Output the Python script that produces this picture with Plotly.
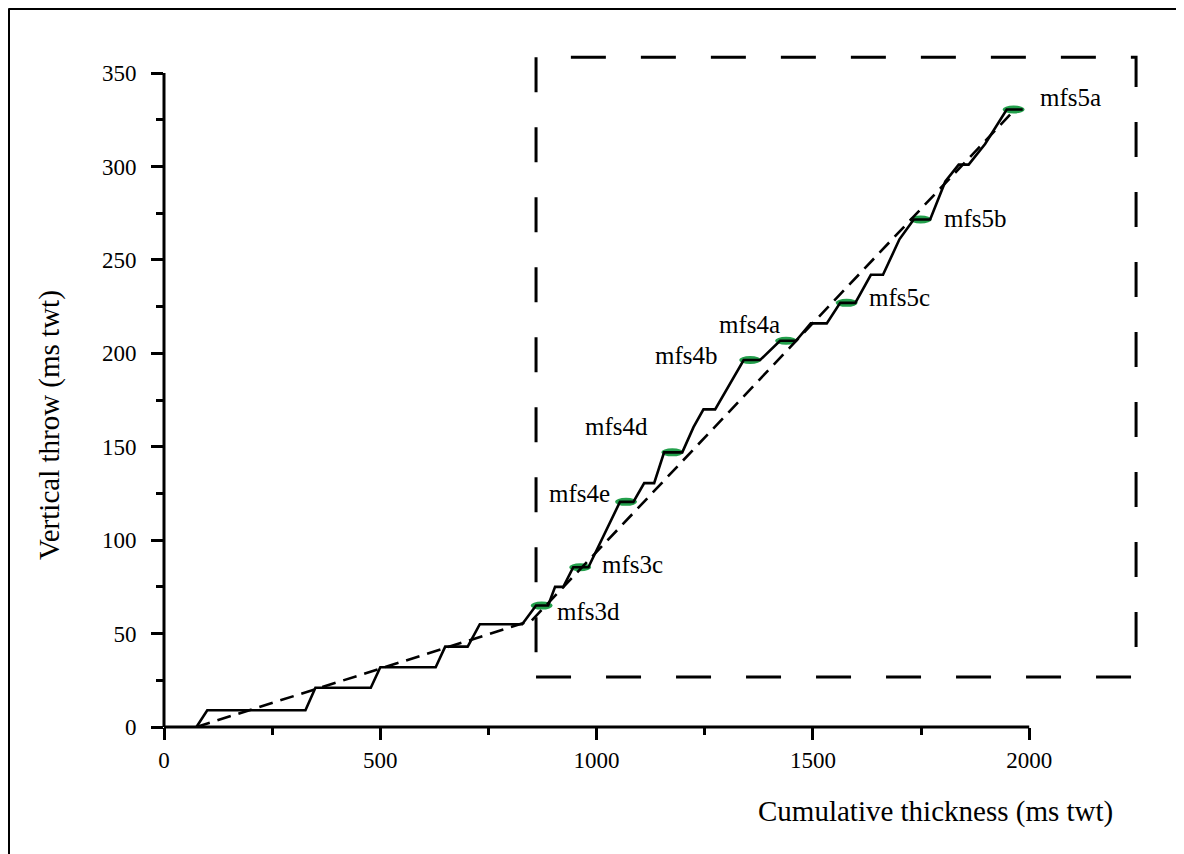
import plotly.graph_objects as go

# ---- data ----
step_x = [75, 100, 327, 350, 478, 500, 628, 650, 702, 730, 828, 860, 888, 904, 923, 946, 981,
          1054, 1085, 1110, 1133, 1156, 1198, 1224, 1247, 1274, 1340, 1378, 1424, 1461, 1495,
          1532, 1563, 1598, 1634, 1662, 1700, 1733, 1771, 1806, 1837, 1860, 1898, 1948, 1985]
step_y = [0, 9, 9, 21, 21, 32, 32, 43, 43, 55, 55, 65, 65, 75, 75, 85.5, 85.5,
          120.5, 120.5, 130.5, 130.5, 147, 147, 160.5, 170, 170, 196.4, 196.4, 206.7, 206.7, 216,
          216, 227, 227, 242, 242, 261, 271.6, 271.6, 292, 301, 301, 312, 330.5, 330.5]

trend_x = [75, 850, 1965]
trend_y = [0, 57, 330]

mfs_names = ["mfs3d", "mfs3c", "mfs4e", "mfs4d", "mfs4b", "mfs4a", "mfs5c", "mfs5b", "mfs5a"]
mfs_x = [873, 962, 1068, 1175, 1355, 1438, 1578, 1749, 1964]
mfs_y = [65, 85.5, 120.5, 147, 196.4, 206.7, 227, 271.6, 330.5]

# label anchor points (data units) and side
label_x = [903, 1008, 1035, 1124, 1285, 1428, 1625, 1798, 2021]
label_y = [61.7, 87, 125, 160.7, 199, 215.6, 230, 272, 337]
label_side = ["left", "left", "right", "right", "right", "right", "left", "left", "left"]

box_x = [860, 2247]
box_y = [26.8, 358.5]

x_ticks = [0, 500, 1000, 1500, 2000]
x_minor = [250, 750, 1250, 1750]
y_ticks = [0, 50, 100, 150, 200, 250, 300, 350]
y_minor = [25, 75, 125, 175, 225, 275, 325]

FONT = "Liberation Serif"
GREEN = "#23a04c"

W, H = 1184, 854
ML, MT = 156, 37
PW, PH = 995, 682
MR = W - ML - PW
MB = H - MT - PH

fig = go.Figure()

fig.add_trace(go.Scatter(x=trend_x, y=trend_y, mode="lines",
                         line=dict(color="black", width=2.6, dash="14px,8px"),
                         showlegend=False, hoverinfo="skip"))
fig.add_trace(go.Scatter(x=step_x, y=step_y, mode="lines",
                         line=dict(color="black", width=2.6),
                         showlegend=False, hoverinfo="skip"))

shapes = []
# green ellipses at mfs points
for xv, yv in zip(mfs_x, mfs_y):
    shapes.append(dict(type="circle", xref="x", yref="y",
                       xsizemode="pixel", ysizemode="pixel",
                       xanchor=xv, yanchor=yv, x0=-11, x1=11, y0=-4, y1=4,
                       fillcolor=GREEN, line=dict(width=0), layer="below"))
# dashed box
shapes.append(dict(type="rect", xref="x", yref="y",
                   x0=box_x[0], x1=box_x[1], y0=box_y[0], y1=box_y[1],
                   line=dict(color="black", width=3, dash="35px,35px")))
# axis lines
shapes.append(dict(type="line", xref="x", yref="paper", x0=x_ticks[0], x1=x_ticks[-1], y0=0, y1=0,
                   line=dict(color="black", width=3)))
shapes.append(dict(type="line", xref="paper", yref="y", x0=0, x1=0, y0=y_ticks[0], y1=y_ticks[-1],
                   line=dict(color="black", width=3)))
# outer frame along the top and left figure edges
fx0 = (0.5 - ML) / PW
fx1 = (W - ML) / PW
fy1 = (PH + MT - 0.5) / PH
fy0 = -MB / PH
shapes.append(dict(type="line", xref="paper", yref="paper", x0=fx0, x1=fx1, y0=fy1, y1=fy1,
                   line=dict(color="black", width=3)))
shapes.append(dict(type="line", xref="paper", yref="paper", x0=fx0, x1=fx0, y0=fy1, y1=fy0,
                   line=dict(color="black", width=3)))

annotations = []
for name, lx, ly, side in zip(mfs_names, label_x, label_y, label_side):
    annotations.append(dict(x=lx, y=ly, xref="x", yref="y", text=name, showarrow=False,
                            xanchor=side, yanchor="middle",
                            font=dict(family=FONT, size=25, color="black")))
annotations.append(dict(x=0.7754, y=-0.1232, xref="paper", yref="paper",
                        text="Cumulative thickness (ms twt)", showarrow=False,
                        xanchor="center", yanchor="middle",
                        font=dict(family=FONT, size=29, color="black")))
annotations.append(dict(x=-0.1156, y=0.4428, xref="paper", yref="paper",
                        text="Vertical throw (ms twt)", showarrow=False, textangle=-90,
                        xanchor="center", yanchor="middle",
                        font=dict(family=FONT, size=29, color="black")))

fig.update_layout(
    width=W, height=H,
    margin=dict(l=ML, r=MR, t=MT, b=MB),
    paper_bgcolor="white", plot_bgcolor="white",
    shapes=shapes, annotations=annotations,
    xaxis=dict(range=[0, 2300], showgrid=False, zeroline=False, showline=False,
               tickmode="array", tickvals=x_ticks, ticktext=[str(v) for v in x_ticks],
               ticks="outside", ticklen=12, tickwidth=2.5, tickcolor="black",
               ticklabelstandoff=0,
               minor=dict(tickmode="array", tickvals=x_minor, ticks="outside", ticklen=7,
                          tickwidth=2.5, tickcolor="black", showgrid=False),
               tickfont=dict(family=FONT, size=23, color="black")),
    yaxis=dict(range=[0, 365], showgrid=False, zeroline=False, showline=False,
               tickmode="array", tickvals=y_ticks, ticktext=[str(v) for v in y_ticks],
               ticks="outside", ticklen=12, tickwidth=2.5, tickcolor="black",
               ticklabelstandoff=10,
               minor=dict(tickmode="array", tickvals=y_minor, ticks="outside", ticklen=7,
                          tickwidth=2.5, tickcolor="black", showgrid=False),
               tickfont=dict(family=FONT, size=23, color="black")),
)

fig.write_html("out.html")
